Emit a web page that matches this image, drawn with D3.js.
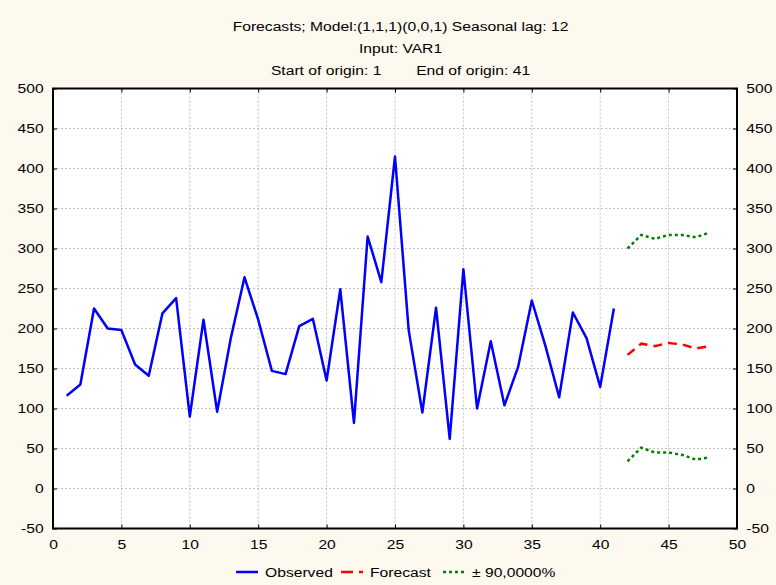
<!DOCTYPE html>
<html><head><meta charset="utf-8">
<script src="https://cdn.jsdelivr.net/npm/d3@7"></script>
<style>body{margin:0;background:#fdf9ee;}svg{display:block;font-family:"Liberation Sans",Arial,sans-serif;}</style>
</head><body><svg id="c" width="776" height="585"></svg>
<script>
const observedX = d3.range(1, 42);
const observed = [116,130,225,200,198,155,141,219,238,90,211,96,188,264,211,147,143,203,212,135,249,82,315,258,415,198,95,226,62,274,100,184,104,152,235,178,114,220,188,127,225];
const forecastX = [42,43,44,45,46,47,48];
const forecast = [167,181,178,182,180,175,178];
const upper = [300,317,312,317,317,314,320];
const lower = [34,51,45,45,42,36,39];
const xTicks = [0,5,10,15,20,25,30,35,40,45,50];
const yTicks = [-50,0,50,100,150,200,250,300,350,400,450,500];
const titles = ["Forecasts; Model:(1,1,1)(0,0,1) Seasonal lag: 12", "Input: VAR1", "Start of origin: 1        End of origin: 41"];
const legendItems = [
  {label:"Observed", color:"#0000ff", dash:null},
  {label:"Forecast", color:"#ff0000", dash:"12,6,4,6"},
  {label:"± 90,0000%", color:"#008000", dash:"3,3"}
];

const FS = 13.5, SX = 1.16;
const svg = d3.select("#c");
const L = 53, R = 737, T = 88.5, B = 528.5;
const x = d3.scaleLinear().domain([0,50]).range([L,R]);
const y = d3.scaleLinear().domain([-50,500]).range([B,T]);

svg.append("rect").attr("width",776).attr("height",585).attr("fill","#fdf9ee");
svg.append("rect").attr("x",L).attr("y",T).attr("width",R-L).attr("height",B-T).attr("fill","#fff");

// grid
const g = svg.append("g");
g.selectAll(".gx").data(xTicks.slice(1,-1)).join("line")
  .attr("x1",d=>x(d)).attr("x2",d=>x(d)).attr("y1",T).attr("y2",B)
  .attr("stroke","#c4c4c4").attr("stroke-dasharray","2,2").attr("stroke-width",1);
g.selectAll(".gy").data(yTicks.slice(1,-1)).join("line")
  .attr("y1",d=>y(d)).attr("y2",d=>y(d)).attr("x1",L).attr("x2",R)
  .attr("stroke","#c4c4c4").attr("stroke-dasharray","2,2").attr("stroke-width",1);

const line = d3.line().x(d=>x(d[0])).y(d=>y(d[1]));
svg.append("path").datum(observedX.map((v,i)=>[v,observed[i]])).attr("d",line)
  .attr("fill","none").attr("stroke","#0000ff").attr("stroke-width",2.5).attr("stroke-linejoin","round");
svg.append("path").datum(forecastX.map((v,i)=>[v,forecast[i]])).attr("d",line)
  .attr("fill","none").attr("stroke","#ff0000").attr("stroke-width",2.5).attr("stroke-dasharray","9,6");
[upper,lower].forEach(s=>{
  svg.append("path").datum(forecastX.map((v,i)=>[v,s[i]])).attr("d",line)
    .attr("fill","none").attr("stroke","#008000").attr("stroke-width",2.5).attr("stroke-dasharray","3,3");
});

// axes (ticks inward)
const fmt = d => String(d);
const ax = (axis, tr) => {
  const a = svg.append("g").attr("transform",tr).call(axis);
  a.select(".domain").remove();
  a.selectAll("text").attr("font-size",FS).attr("fill","#000")
    .attr("font-family","Liberation Sans, Arial, sans-serif")
    .attr("transform",`scale(${SX},1)`);
  a.selectAll("line").attr("stroke","#000");
  return a;
};
ax(d3.axisBottom(x).tickValues(xTicks).tickFormat(fmt).tickSizeInner(-4).tickSizeOuter(0).tickPadding(11), `translate(0,${B})`);
ax(d3.axisTop(x).tickValues(xTicks).tickSizeInner(-4).tickSizeOuter(0).tickFormat(""), `translate(0,${T})`);
ax(d3.axisLeft(y).tickValues(yTicks).tickFormat(fmt).tickSizeInner(-4).tickSizeOuter(0).tickPadding(8), `translate(${L},0)`);
ax(d3.axisRight(y).tickValues(yTicks).tickFormat(fmt).tickSizeInner(-4).tickSizeOuter(0).tickPadding(8), `translate(${R},0)`);

svg.append("rect").attr("x",L).attr("y",T).attr("width",R-L).attr("height",B-T)
  .attr("fill","none").attr("stroke","#000").attr("stroke-width",2);

// titles
svg.selectAll(".t").data(titles).join("text")
  .attr("transform",(d,i)=>`translate(400.5,${31+i*22}) scale(${SX},1)`).attr("text-anchor","middle")
  .attr("font-size",FS).attr("xml:space","preserve").style("white-space","pre").text(d=>d);

// legend
const leg = svg.append("g");
const lx = [236, 341, 443];
legendItems.forEach((it,i)=>{
  leg.append("line").attr("x1",lx[i]).attr("x2",lx[i]+22).attr("y1",572).attr("y2",572)
    .attr("stroke",it.color).attr("stroke-width",2.5).attr("stroke-dasharray",it.dash);
  leg.append("text").attr("transform",`translate(${lx[i]+29},577) scale(${SX},1)`)
    .attr("font-size",FS).text(it.label);
});
</script></body></html>
